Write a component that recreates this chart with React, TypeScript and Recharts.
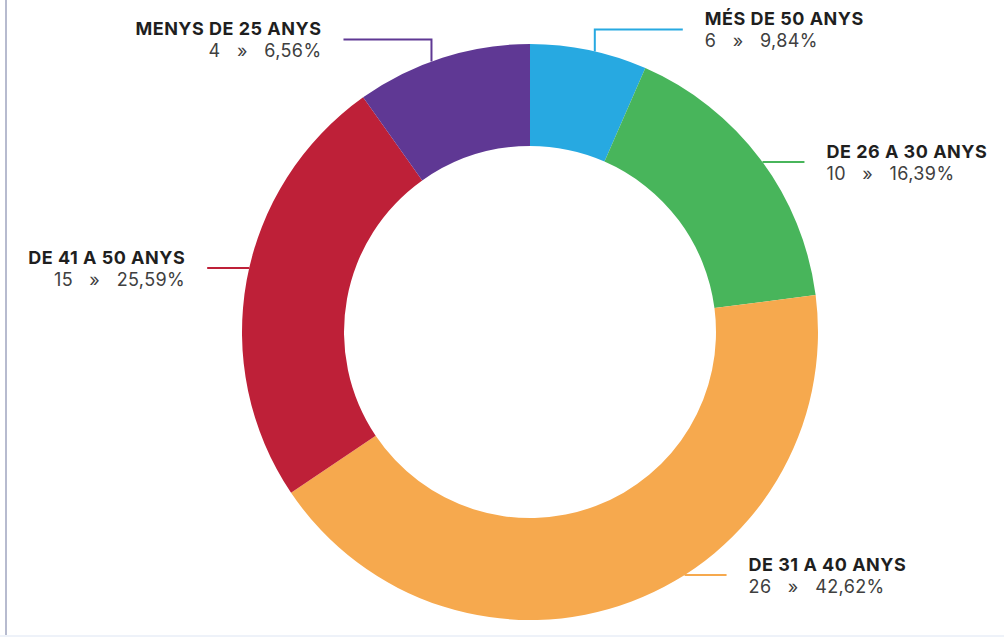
import { PieChart, Pie, Cell } from 'recharts';

// slice order clockwise from 12 o'clock
const CATEGORIES = ['MÉS DE 50 ANYS', 'DE 26 A 30 ANYS', 'DE 31 A 40 ANYS', 'DE 41 A 50 ANYS', 'MENYS DE 25 ANYS'];
// slice sizes as drawn in the picture
const VALUES = [4, 10, 26, 15, 6];
// label texts as printed
const COUNT_LABELS = ['6', '10', '26', '15', '4'];
const PERCENT_LABELS = ['9,84%', '16,39%', '42,62%', '25,59%', '6,56%'];

const COLORS = ['#27A9E1', '#48B55B', '#F6A94E', '#BE2038', '#5F3894'];

const FONT = 'Inter, "Noto Sans", sans-serif';

// connector tweaks per label (angle nudge in degrees, elbow vs straight)
const LAYOUT = [
  { dAngle: 1.2, elbow: true },
  { dAngle: 0.7, elbow: false },
  { dAngle: -11.8, elbow: false },
  { dAngle: 2.5, elbow: false },
  { dAngle: -2.3, elbow: true },
];

const data = CATEGORIES.map((name, i) => ({ name, value: VALUES[i] }));

function renderLabel(props: any) {
  const { cx, cy, midAngle, outerRadius, index } = props;
  const lay = LAYOUT[index];
  const deg = 90 - midAngle + lay.dAngle;
  const rad = (deg * Math.PI) / 180;
  const x = cx + outerRadius * Math.sin(rad);
  const y = cy - outerRadius * Math.cos(rad);
  const right = Math.sin(rad) > 0;
  const dir = right ? 1 : -1;

  let path: string;
  let ly: number;
  let ex: number;
  if (lay.elbow) {
    ly = y - 22;
    ex = x + dir * 88;
    path = `M${x},${y}V${ly}H${ex}`;
  } else {
    ly = y;
    ex = x + dir * 42;
    path = `M${x},${y}H${ex}`;
  }
  const tx = ex + dir * 22;
  const anchor = right ? 'start' : 'end';

  return (
    <g key={`lbl-${index}`}>
      <path d={path} stroke={COLORS[index]} strokeWidth={2} fill="none" />
      <text x={tx} y={ly - 4} textAnchor={anchor} fontFamily={FONT} fontSize={18}
            fontWeight={700} letterSpacing={0.5} fill="#1f1f1f">
        {CATEGORIES[index]}
      </text>
      <text x={tx} y={ly + 18} textAnchor={anchor} fontFamily={FONT} fontSize={18}
            letterSpacing={0.4} fill="#404040" style={{ whiteSpace: 'pre' }}>
        {`${COUNT_LABELS[index]}   »   ${PERCENT_LABELS[index]}`}
      </text>
    </g>
  );
}

export default function App() {
  return (
    <div style={{ position: 'fixed', left: 0, top: 0, width: 1004, height: 637, background: '#fff' }}>
      <div style={{ position: 'absolute', left: 5, top: 0, width: 2, height: 637, background: '#b7bbcf' }} />
      <div style={{ position: 'absolute', left: 0, top: 635, width: 1004, height: 2, background: '#eef2f9' }} />
      <PieChart width={1004} height={637} margin={{ top: 0, right: 0, bottom: 0, left: 0 }}
                style={{ position: 'absolute', left: 0, top: 0 }}>
        <Pie
          data={data}
          dataKey="value"
          cx={530}
          cy={332}
          innerRadius={186}
          outerRadius={288}
          startAngle={90}
          endAngle={-270}
          stroke="none"
          label={renderLabel}
          labelLine={false}
          isAnimationActive={false}
        >
          {data.map((d, i) => (
            <Cell key={d.name} fill={COLORS[i]} />
          ))}
        </Pie>
      </PieChart>
    </div>
  );
}
